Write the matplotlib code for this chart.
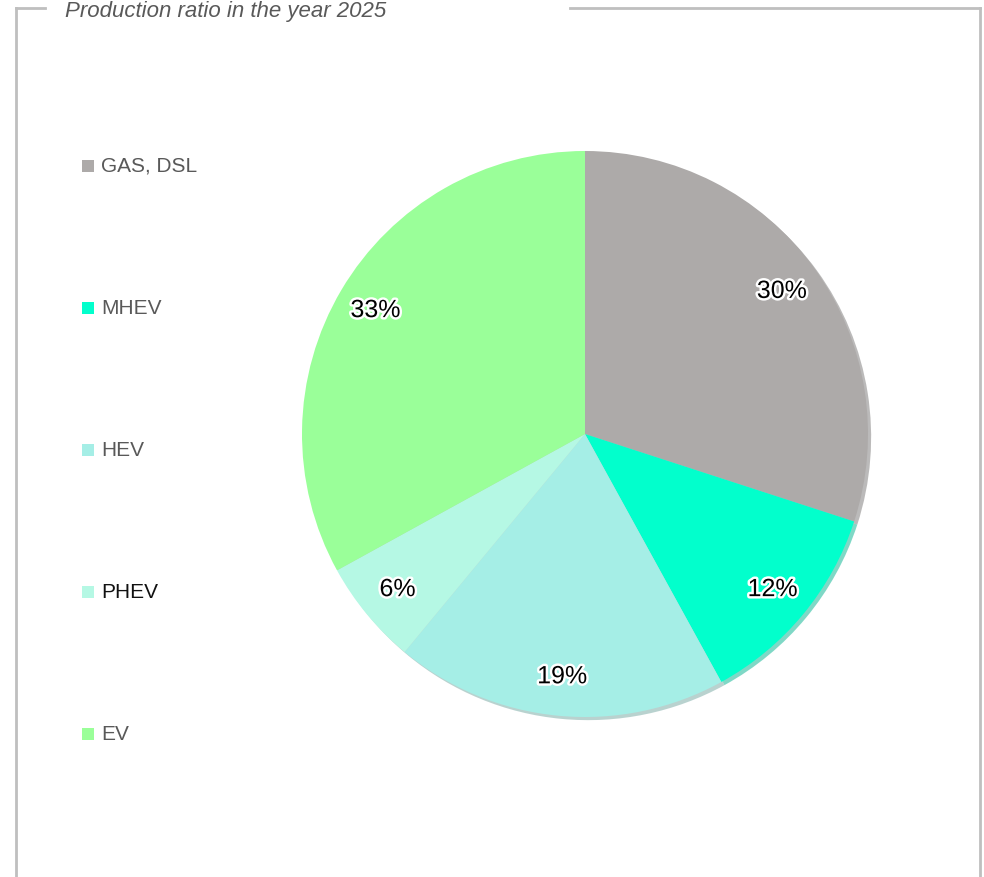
import matplotlib.pyplot as plt
import matplotlib.patheffects as pe
from matplotlib.patches import Rectangle
from matplotlib.lines import Line2D

categories = ["GAS, DSL", "MHEV", "HEV", "PHEV", "EV"]
shares = [30, 12, 19, 6, 33]
colors = ["#ADAAA9", "#02FFCC", "#A5EEE6", "#B5F8E4", "#9AFF99"]
title = "Production ratio in the year 2025"

W, H = 984, 877
plt.rcParams['font.family'] = ['Liberation Sans', 'DejaVu Sans']
fig = plt.figure(figsize=(W / 100, H / 100), dpi=100)

# pie axes, centre ~ (585, 434) px, radius ~283 px
cx, cy, r = 585, 434, 283
ax = fig.add_axes([(cx - r) / W, (H - cy - r) / H, 2 * r / W, 2 * r / H])
wedges, texts, autotexts = ax.pie(
    shares, colors=colors, startangle=90, counterclock=False,
    autopct="%1.0f%%", pctdistance=0.86,
    shadow={"ox": 0.008, "oy": -0.008, "shade": 0.3},
    wedgeprops={"linewidth": 0},
    textprops={"fontsize": 18, "color": "black"})
for t in autotexts:
    t.set_path_effects([pe.withStroke(linewidth=3.5, foreground="white")])
ax.set_xlim(-1, 1)
ax.set_ylim(-1, 1)
ax.axis("off")

# frame around the chart with a gap for the title
frame_c = "#BFBFBF"
def px(x, y):
    return x / W, 1 - y / H
for (x0, y0), (x1, y1) in [((16, 8), (45, 8)), ((570, 8), (980, 8)),
                           ((16, 8), (16, 877)), ((980, 8), (980, 877))]:
    a, b = px(x0, y0)
    c, d = px(x1, y1)
    fig.add_artist(Line2D([a, c], [b, d], color=frame_c, linewidth=2))

fig.text(65 / W, 1 - 17 / H, title, fontsize=16, style="italic",
         color="#595959", va="baseline", ha="left")

# legend entries down the left side
for i, (lab, col) in enumerate(zip(categories, colors)):
    yc = 166 + i * 142
    fig.add_artist(Rectangle((82 / W, 1 - (yc + 6) / H), 12 / W, 12 / H,
                             facecolor=col, edgecolor="none",
                             transform=fig.transFigure))
    fig.text(101 / W, 1 - yc / H, lab, fontsize=15,
             color="#111111" if lab == "PHEV" else "#595959",
             va="center", ha="left")

fig.savefig("out.png", dpi=100)
